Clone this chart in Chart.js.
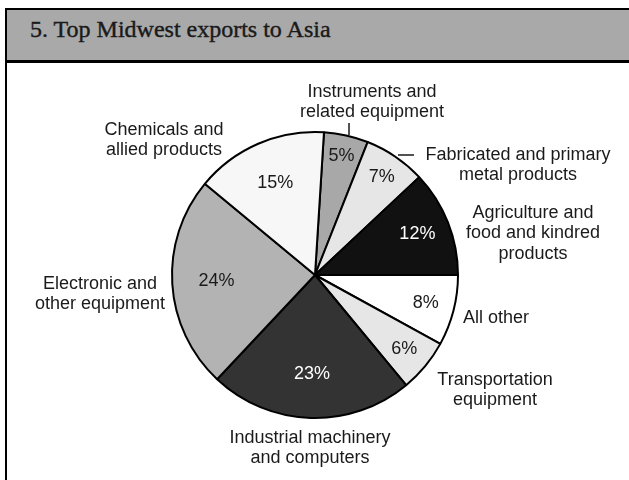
<!DOCTYPE html>
<html>
<head>
<meta charset="utf-8">
<script src="https://cdn.jsdelivr.net/npm/chart.js@4/dist/chart.umd.min.js"></script>
<style>
body{margin:0;background:#fff;width:629px;height:480px;overflow:hidden;position:relative;}
#frame{position:absolute;left:5px;top:8px;width:700px;height:500px;border-left:2px solid #000;border-top:2px solid #000;}
#title{position:absolute;left:5px;top:8px;width:700px;height:50px;background:#a9a9a9;border-top:2px solid #000;border-bottom:3px solid #000;border-left:2px solid #000;}
#title span{position:absolute;left:23px;top:7px;font:24px/24px "Liberation Serif",serif;color:#1a1a1a;white-space:nowrap;-webkit-text-stroke:0.4px #1a1a1a;}
#pie{position:absolute;left:0;top:0;}
</style>
</head>
<body>
<div id="frame"></div>
<div id="title"><span>5. Top Midwest exports to Asia</span></div>
<canvas id="pie" width="629" height="480"></canvas>
<script>
// slices clockwise from just right of 12 o'clock
var categories = ['Instruments and related equipment', 'Fabricated and primary metal products',
    'Agriculture and food and kindred products', 'All other', 'Transportation equipment',
    'Industrial machinery and computers', 'Electronic and other equipment', 'Chemicals and allied products'];
var shares = [5, 7, 12, 8, 6, 23, 24, 15];
var label_lines = [
    ['Instruments and', 'related equipment'],
    ['Fabricated and primary', 'metal products'],
    ['Agriculture and', 'food and kindred', 'products'],
    ['All other'],
    ['Transportation', 'equipment'],
    ['Industrial machinery', 'and computers'],
    ['Electronic and', 'other equipment'],
    ['Chemicals and', 'allied products']
];

var fills = ['#a8a8a8', '#e6e6e6', '#111111', '#ffffff', '#e6e6e6', '#333333', '#b3b3b3', '#f7f7f7'];
var pct_colors = ['#1a1a1a', '#1a1a1a', '#ffffff', '#1a1a1a', '#1a1a1a', '#ffffff', '#1a1a1a', '#1a1a1a'];
// how far out (fraction of radius) each percent sits
var pct_radius = [0.85, 0.83, 0.77, 0.8, 0.81, 0.69, 0.69, 0.7];
// outside labels: offset from pie centre, alignment
var label_place = [
    {dx: 57, dy: -183, align: 'center'},
    {dx: 203, dy: -120, align: 'center'},
    {dx: 218, dy: -62, align: 'center'},
    {dx: 148, dy: 43, align: 'left'},
    {dx: 180, dy: 105, align: 'center'},
    {dx: -5, dy: 163, align: 'center'},
    {dx: -215, dy: 9, align: 'center'},
    {dx: -151, dy: -145, align: 'center'}
];

var pie_labels = {
    id: 'pieLabels',
    afterDatasetsDraw: function(chart) {
        var ctx = chart.ctx;
        var arcs = chart.getDatasetMeta(0).data;
        var cx = arcs[0].x, cy = arcs[0].y;
        ctx.save();
        ctx.textBaseline = 'middle';

        ctx.font = '18px "Liberation Sans", Arial, sans-serif';
        ctx.textAlign = 'center';
        arcs.forEach(function(arc, i) {
            var mid = (arc.startAngle + arc.endAngle) / 2;
            var r = arc.outerRadius * pct_radius[i];
            ctx.fillStyle = pct_colors[i];
            ctx.fillText(shares[i] + '%', cx + Math.cos(mid) * r, cy + Math.sin(mid) * r);
        });

        ctx.fillStyle = '#1a1a1a';
        label_lines.forEach(function(lines, i) {
            var p = label_place[i];
            ctx.textAlign = p.align;
            lines.forEach(function(line, j) {
                ctx.fillText(line, cx + p.dx, cy + p.dy + j * 20.5);
            });
        });

        // leader marks
        ctx.strokeStyle = '#1a1a1a';
        ctx.lineWidth = 1.5;
        ctx.beginPath();
        ctx.moveTo(cx + 34, cy - 152);
        ctx.lineTo(cx + 34, cy - 140);
        ctx.moveTo(cx + 83, cy - 120);
        ctx.lineTo(cx + 99, cy - 120);
        ctx.stroke();
        ctx.restore();
    }
};

new Chart(document.getElementById('pie'), {
    type: 'pie',
    data: {
        labels: categories,
        datasets: [{
            data: shares,
            backgroundColor: fills,
            borderColor: '#000',
            borderWidth: 2
        }]
    },
    options: {
        responsive: false,
        animation: false,
        devicePixelRatio: 1,
        rotation: 3.6,
        layout: {padding: {top: 131, bottom: 61, left: 171, right: 170}},
        plugins: {legend: {display: false}, tooltip: {enabled: false}}
    },
    plugins: [pie_labels]
});
</script>
</body>
</html>
